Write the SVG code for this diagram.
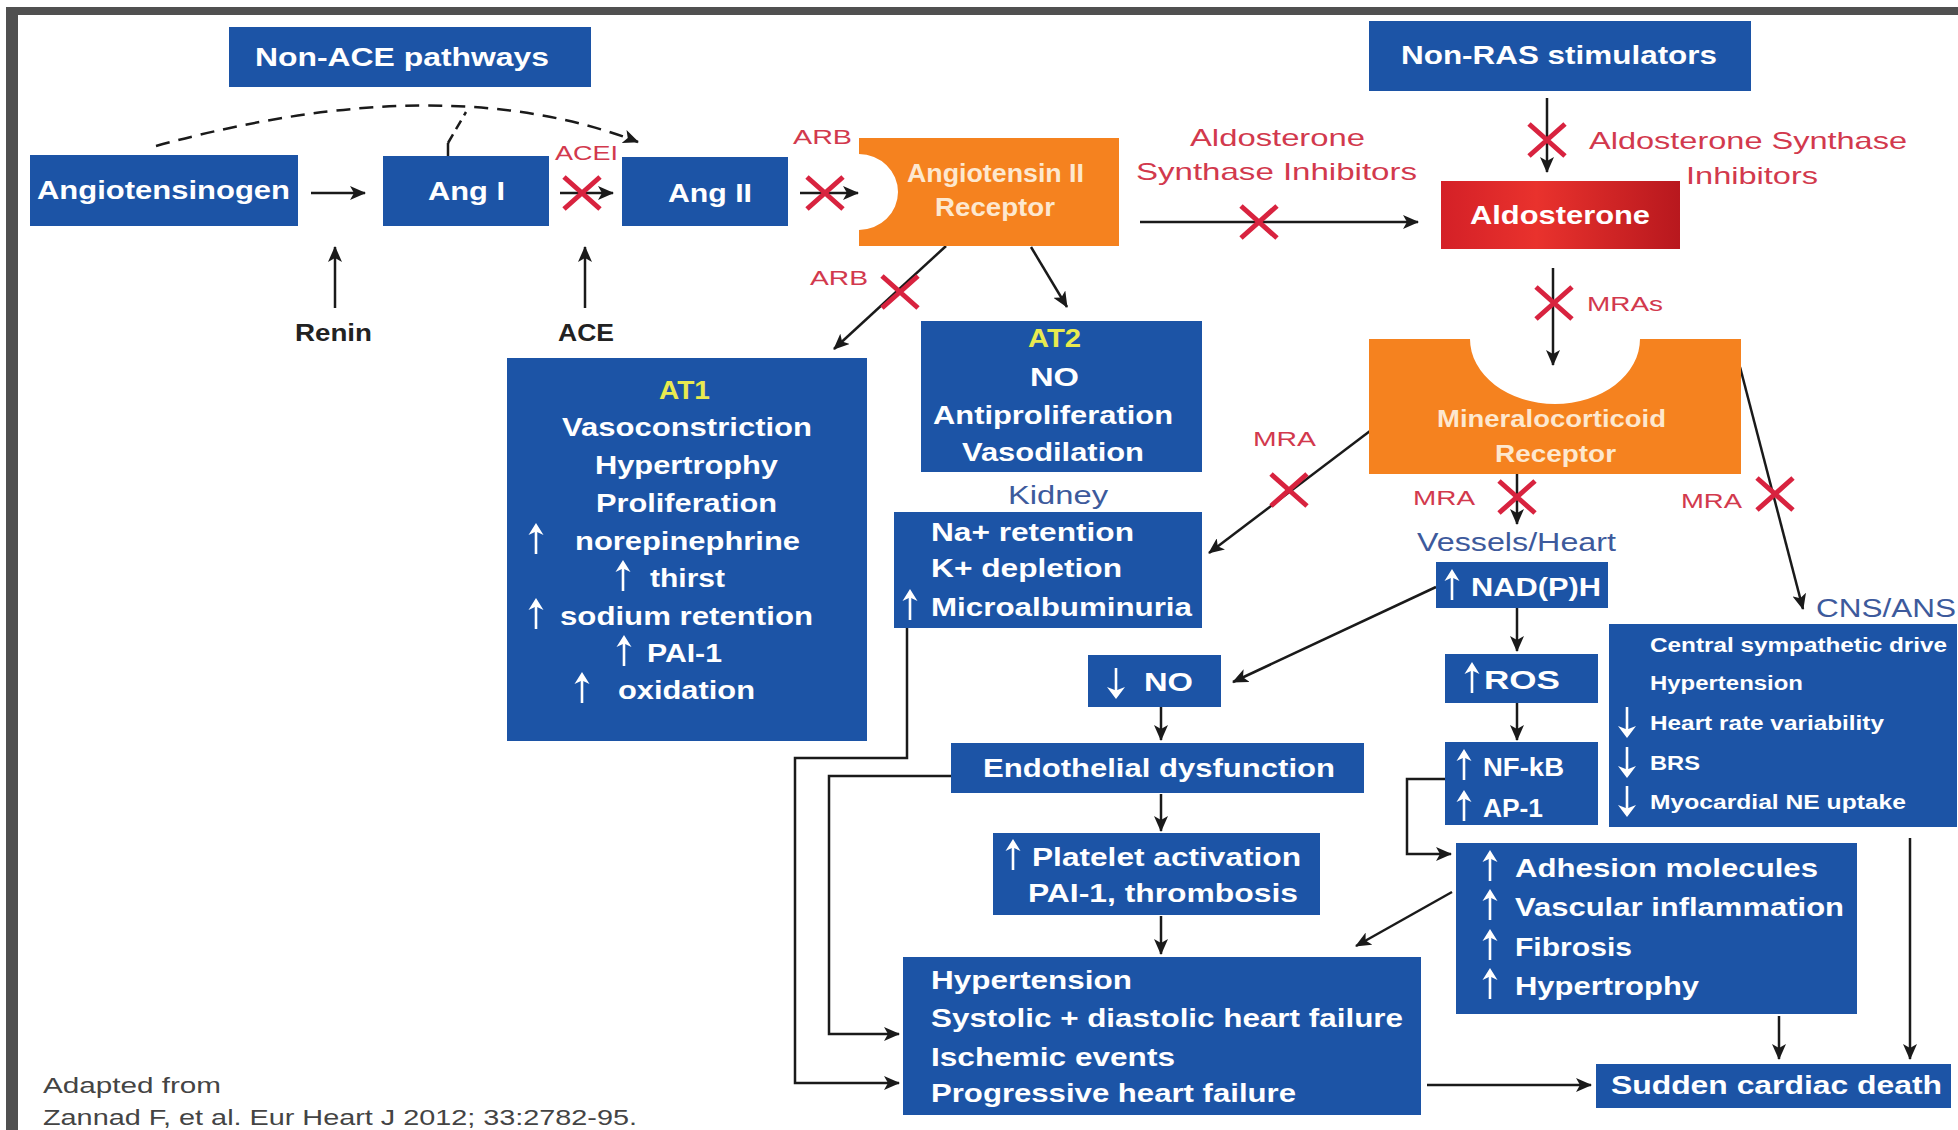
<svg xmlns="http://www.w3.org/2000/svg" width="1958" height="1130" viewBox="0 0 1958 1130">
<style>
text{font-family:"Liberation Sans",Arial,"DejaVu Sans",sans-serif}
.box{fill:#1c54a6}
.org{fill:#f5821f}
.wt{font-weight:bold;fill:#ffffff;font-size:25px}
.sm{font-size:20px}
.yl{font-weight:bold;fill:#e9ea4f;font-size:25px}
.cr{font-weight:bold;fill:#fde8cf;font-size:25px}
.red{fill:#d2394d;font-size:24px}
.rs{font-size:21px}
.lbl{fill:#3d5a9c;font-size:25px}
.blk{fill:#222222;font-weight:bold;font-size:23px}
.ft{fill:#444444;font-size:22px}
.conn{stroke:#1a1a1a;stroke-width:2.5;fill:none}
.xm{stroke:#d8233f;stroke-width:5;fill:none}
.sh{stroke:#ffffff;stroke-width:2.6;fill:none}
.hd{fill:#ffffff}
</style>
<defs>
<marker id="ah" viewBox="0 0 16 14" refX="15" refY="7" markerWidth="16" markerHeight="14" markerUnits="userSpaceOnUse" orient="auto">
<path d="M0,0 L16,7 L0,14 L4,7 Z" fill="#1a1a1a"/>
</marker>
<linearGradient id="rg" x1="0" y1="0" x2="1" y2="0">
<stop offset="0" stop-color="#d42027"/>
<stop offset="0.4" stop-color="#e9322d"/>
<stop offset="1" stop-color="#b8181e"/>
</linearGradient>
<g id="x"><path class="xm" d="M-18,-16 L18,16 M18,-16 L-18,16"/></g>
<g id="up"><path class="sh" d="M0,4 V-20"/><path class="hd" d="M-7.5,-15 L0,-27 L7.5,-15 L0,-18.5 Z"/></g>
<g id="dn"><path class="sh" d="M0,-23 V2"/><path class="hd" d="M-9,-4 L0,8 L9,-4 L0,-0.5 Z"/></g>
</defs>
<rect width="1958" height="1130" fill="#ffffff"/>
<g id="frame" fill="#505050">
<rect x="6" y="7" width="1952" height="8"/>
<rect x="6" y="7" width="12" height="1123"/>
</g>

<g id="connectors">
<line class="conn" x1="311" y1="193" x2="365" y2="193" marker-end="url(#ah)"/>
<line class="conn" x1="560" y1="193" x2="613" y2="193" marker-end="url(#ah)"/>
<line class="conn" x1="800" y1="193" x2="858" y2="193" marker-end="url(#ah)"/>
<line class="conn" x1="335" y1="308" x2="335" y2="247" marker-end="url(#ah)"/>
<line class="conn" x1="585" y1="308" x2="585" y2="247" marker-end="url(#ah)"/>
<path class="conn" d="M156,146 Q444,67 638,142" stroke-dasharray="14 9" marker-end="url(#ah)"/>
<path class="conn" d="M448,156 L448,143"/>
<path class="conn" d="M448,143 L466,112" stroke-dasharray="10 6"/>
<line class="conn" x1="1140" y1="222" x2="1418" y2="222" marker-end="url(#ah)"/>
<line class="conn" x1="946" y1="246" x2="834" y2="349" marker-end="url(#ah)"/>
<line class="conn" x1="1031" y1="247" x2="1067" y2="307" marker-end="url(#ah)"/>
<line class="conn" x1="1547" y1="98" x2="1547" y2="172" marker-end="url(#ah)"/>
<line class="conn" x1="1553" y1="268" x2="1553" y2="365" marker-end="url(#ah)"/>
<line class="conn" x1="1370" y1="431" x2="1209" y2="553" marker-end="url(#ah)"/>
<line class="conn" x1="1517" y1="474" x2="1517" y2="524" marker-end="url(#ah)"/>
<line class="conn" x1="1740" y1="367" x2="1803" y2="609" marker-end="url(#ah)"/>
<line class="conn" x1="1436" y1="587" x2="1233" y2="682" marker-end="url(#ah)"/>
<line class="conn" x1="1517" y1="608" x2="1517" y2="651" marker-end="url(#ah)"/>
<line class="conn" x1="1517" y1="703" x2="1517" y2="740" marker-end="url(#ah)"/>
<line class="conn" x1="1161" y1="707" x2="1161" y2="740" marker-end="url(#ah)"/>
<line class="conn" x1="1161" y1="794" x2="1161" y2="831" marker-end="url(#ah)"/>
<line class="conn" x1="1161" y1="916" x2="1161" y2="954" marker-end="url(#ah)"/>
<path class="conn" d="M1445,779 H1407 V854 H1451" marker-end="url(#ah)"/>
<line class="conn" x1="1452" y1="892" x2="1356" y2="946" marker-end="url(#ah)"/>
<line class="conn" x1="1779" y1="1016" x2="1779" y2="1059" marker-end="url(#ah)"/>
<line class="conn" x1="1910" y1="838" x2="1910" y2="1059" marker-end="url(#ah)"/>
<line class="conn" x1="1427" y1="1085" x2="1591" y2="1085" marker-end="url(#ah)"/>
<path class="conn" d="M907,628 V758 H795 V1083 H899" marker-end="url(#ah)"/>
<path class="conn" d="M951,776 H829 V1034 H899" marker-end="url(#ah)"/>
</g>

<g id="inhibitors">
<use href="#x" x="582" y="193"/>
<use href="#x" x="825" y="193"/>
<use href="#x" x="900" y="292"/>
<use href="#x" x="1259" y="222"/>
<use href="#x" x="1547" y="140"/>
<use href="#x" x="1554" y="303"/>
<use href="#x" x="1289" y="490"/>
<use href="#x" x="1517" y="497"/>
<use href="#x" x="1775" y="494"/>
</g>

<g id="labels">
<text class="red rs" x="555" y="160" textLength="63" lengthAdjust="spacingAndGlyphs">ACEI</text>
<text class="red rs" x="793" y="144" textLength="59" lengthAdjust="spacingAndGlyphs">ARB</text>
<text class="red rs" x="810" y="285" textLength="58" lengthAdjust="spacingAndGlyphs">ARB</text>
<text class="red" x="1190" y="146" textLength="175" lengthAdjust="spacingAndGlyphs">Aldosterone</text>
<text class="red" x="1136" y="180" textLength="281" lengthAdjust="spacingAndGlyphs">Synthase Inhibitors</text>
<text class="red" x="1589" y="149" textLength="318" lengthAdjust="spacingAndGlyphs">Aldosterone Synthase</text>
<text class="red" x="1686" y="184" textLength="132" lengthAdjust="spacingAndGlyphs">Inhibitors</text>
<text class="red rs" x="1587" y="311" textLength="76" lengthAdjust="spacingAndGlyphs">MRAs</text>
<text class="red rs" x="1253" y="446" textLength="63" lengthAdjust="spacingAndGlyphs">MRA</text>
<text class="red rs" x="1413" y="505" textLength="62" lengthAdjust="spacingAndGlyphs">MRA</text>
<text class="red rs" x="1681" y="508" textLength="61" lengthAdjust="spacingAndGlyphs">MRA</text>
<text class="blk" x="295" y="341" textLength="77" lengthAdjust="spacingAndGlyphs">Renin</text>
<text class="blk" x="558" y="341" textLength="56" lengthAdjust="spacingAndGlyphs">ACE</text>
<text class="lbl" x="1008" y="504" textLength="100" lengthAdjust="spacingAndGlyphs">Kidney</text>
<text class="lbl" x="1417" y="551" textLength="199" lengthAdjust="spacingAndGlyphs">Vessels/Heart</text>
<text class="lbl" x="1816" y="617" textLength="140" lengthAdjust="spacingAndGlyphs">CNS/ANS</text>
<text class="ft" x="43" y="1093" textLength="178" lengthAdjust="spacingAndGlyphs">Adapted from</text>
<text class="ft" x="43" y="1125" textLength="594" lengthAdjust="spacingAndGlyphs">Zannad F, et al. Eur Heart J 2012; 33:2782-95.</text>
</g>

<g id="non-ace">
<rect class="box" x="229" y="27" width="362" height="60"/>
<text class="wt" x="255" y="66" textLength="294" lengthAdjust="spacingAndGlyphs">Non-ACE pathways</text>
</g>
<g id="non-ras">
<rect class="box" x="1369" y="21" width="382" height="70"/>
<text class="wt" x="1401" y="64" textLength="316" lengthAdjust="spacingAndGlyphs">Non-RAS stimulators</text>
</g>
<g id="angiotensinogen">
<rect class="box" x="30" y="155" width="268" height="71"/>
<text class="wt" x="37" y="199" textLength="253" lengthAdjust="spacingAndGlyphs">Angiotensinogen</text>
</g>
<g id="ang1">
<rect class="box" x="383" y="156" width="166" height="70"/>
<text class="wt" x="428" y="200" textLength="77" lengthAdjust="spacingAndGlyphs">Ang I</text>
</g>
<g id="ang2">
<rect class="box" x="622" y="157" width="166" height="69"/>
<text class="wt" x="668" y="202" textLength="84" lengthAdjust="spacingAndGlyphs">Ang II</text>
</g>
<g id="at2-receptor">
<path class="org" d="M859,138 H1119 V246 H859 V230 A39,38 0 0 0 859,154 Z"/>
<text class="cr" x="907" y="182" textLength="177" lengthAdjust="spacingAndGlyphs">Angiotensin II</text>
<text class="cr" x="935" y="216" textLength="120" lengthAdjust="spacingAndGlyphs">Receptor</text>
</g>
<g id="aldosterone">
<rect x="1441" y="181" width="239" height="68" fill="url(#rg)"/>
<text class="wt" x="1470" y="224" style="font-size:26px" textLength="180" lengthAdjust="spacingAndGlyphs">Aldosterone</text>
</g>
<g id="mr">
<path class="org" d="M1369,339 H1470 A85,65 0 0 0 1640,339 H1741 V474 H1369 Z"/>
<text class="cr" x="1437" y="427" style="font-size:24px" textLength="229" lengthAdjust="spacingAndGlyphs">Mineralocorticoid</text>
<text class="cr" x="1495" y="462" style="font-size:24px" textLength="121" lengthAdjust="spacingAndGlyphs">Receptor</text>
</g>
<g id="at1">
<rect class="box" x="507" y="358" width="360" height="383"/>
<text class="yl" x="659" y="399" textLength="51" lengthAdjust="spacingAndGlyphs">AT1</text>
<text class="wt" x="562" y="436" textLength="250" lengthAdjust="spacingAndGlyphs">Vasoconstriction</text>
<text class="wt" x="595" y="474" textLength="183" lengthAdjust="spacingAndGlyphs">Hypertrophy</text>
<text class="wt" x="596" y="512" textLength="181" lengthAdjust="spacingAndGlyphs">Proliferation</text>
<use href="#up" x="536" y="550"/>
<text class="wt" x="575" y="550" textLength="225" lengthAdjust="spacingAndGlyphs">norepinephrine</text>
<use href="#up" x="623" y="587"/>
<text class="wt" x="650" y="587" textLength="75" lengthAdjust="spacingAndGlyphs">thirst</text>
<use href="#up" x="536" y="625"/>
<text class="wt" x="560" y="625" textLength="253" lengthAdjust="spacingAndGlyphs">sodium retention</text>
<use href="#up" x="624" y="662"/>
<text class="wt" x="647" y="662" textLength="75" lengthAdjust="spacingAndGlyphs">PAI-1</text>
<use href="#up" x="582" y="699"/>
<text class="wt" x="618" y="699" textLength="137" lengthAdjust="spacingAndGlyphs">oxidation</text>
</g>
<g id="at2">
<rect class="box" x="921" y="321" width="281" height="151"/>
<text class="yl" x="1028" y="347" textLength="53" lengthAdjust="spacingAndGlyphs">AT2</text>
<text class="wt" x="1030" y="386" textLength="49" lengthAdjust="spacingAndGlyphs">NO</text>
<text class="wt" x="933" y="424" textLength="240" lengthAdjust="spacingAndGlyphs">Antiproliferation</text>
<text class="wt" x="962" y="461" textLength="182" lengthAdjust="spacingAndGlyphs">Vasodilation</text>
</g>
<g id="kidney">
<rect class="box" x="894" y="512" width="308" height="116"/>
<text class="wt" x="931" y="541" textLength="203" lengthAdjust="spacingAndGlyphs">Na+ retention</text>
<text class="wt" x="931" y="577" textLength="191" lengthAdjust="spacingAndGlyphs">K+ depletion</text>
<use href="#up" x="910" y="616"/>
<text class="wt" x="931" y="616" textLength="261" lengthAdjust="spacingAndGlyphs">Microalbuminuria</text>
</g>
<g id="no">
<rect class="box" x="1088" y="655" width="133" height="52"/>
<use href="#dn" x="1116" y="691"/>
<text class="wt" x="1144" y="691" textLength="49" lengthAdjust="spacingAndGlyphs">NO</text>
</g>
<g id="endothelial">
<rect class="box" x="951" y="743" width="413" height="50"/>
<text class="wt" x="983" y="777" textLength="352" lengthAdjust="spacingAndGlyphs">Endothelial dysfunction</text>
</g>
<g id="platelet">
<rect class="box" x="993" y="833" width="327" height="82"/>
<use href="#up" x="1013" y="866"/>
<text class="wt" x="1032" y="866" textLength="269" lengthAdjust="spacingAndGlyphs">Platelet activation</text>
<text class="wt" x="1028" y="902" textLength="270" lengthAdjust="spacingAndGlyphs">PAI-1, thrombosis</text>
</g>
<g id="outcomes">
<rect class="box" x="903" y="957" width="518" height="158"/>
<text class="wt" x="931" y="989" textLength="201" lengthAdjust="spacingAndGlyphs">Hypertension</text>
<text class="wt" x="931" y="1027" textLength="472" lengthAdjust="spacingAndGlyphs">Systolic + diastolic heart failure</text>
<text class="wt" x="931" y="1066" textLength="244" lengthAdjust="spacingAndGlyphs">Ischemic events</text>
<text class="wt" x="931" y="1102" textLength="365" lengthAdjust="spacingAndGlyphs">Progressive heart failure</text>
</g>
<g id="nadph">
<rect class="box" x="1436" y="562" width="172" height="46"/>
<use href="#up" x="1452" y="596"/>
<text class="wt" x="1471" y="596" textLength="130" lengthAdjust="spacingAndGlyphs">NAD(P)H</text>
</g>
<g id="ros">
<rect class="box" x="1445" y="654" width="153" height="49"/>
<use href="#up" x="1472" y="689"/>
<text class="wt" x="1484" y="689" textLength="76" lengthAdjust="spacingAndGlyphs">ROS</text>
</g>
<g id="nfkb">
<rect class="box" x="1445" y="742" width="153" height="83"/>
<use href="#up" x="1464" y="776"/>
<text class="wt" x="1483" y="776" textLength="81" lengthAdjust="spacingAndGlyphs">NF-kB</text>
<use href="#up" x="1464" y="817"/>
<text class="wt" x="1483" y="817" textLength="60" lengthAdjust="spacingAndGlyphs">AP-1</text>
</g>
<g id="cns">
<rect class="box" x="1609" y="624" width="348" height="203"/>
<text class="wt sm" x="1650" y="652" textLength="297" lengthAdjust="spacingAndGlyphs">Central sympathetic drive</text>
<text class="wt sm" x="1650" y="690" textLength="153" lengthAdjust="spacingAndGlyphs">Hypertension</text>
<use href="#dn" x="1627" y="730"/>
<text class="wt sm" x="1650" y="730" textLength="234" lengthAdjust="spacingAndGlyphs">Heart rate variability</text>
<use href="#dn" x="1627" y="770"/>
<text class="wt sm" x="1650" y="770" textLength="50" lengthAdjust="spacingAndGlyphs">BRS</text>
<use href="#dn" x="1627" y="809"/>
<text class="wt sm" x="1650" y="809" textLength="256" lengthAdjust="spacingAndGlyphs">Myocardial NE uptake</text>
</g>
<g id="adhesion">
<rect class="box" x="1456" y="843" width="401" height="171"/>
<use href="#up" x="1490" y="877"/>
<text class="wt" x="1515" y="877" textLength="303" lengthAdjust="spacingAndGlyphs">Adhesion molecules</text>
<use href="#up" x="1490" y="916"/>
<text class="wt" x="1515" y="916" textLength="329" lengthAdjust="spacingAndGlyphs">Vascular inflammation</text>
<use href="#up" x="1490" y="956"/>
<text class="wt" x="1515" y="956" textLength="117" lengthAdjust="spacingAndGlyphs">Fibrosis</text>
<use href="#up" x="1490" y="995"/>
<text class="wt" x="1515" y="995" textLength="184" lengthAdjust="spacingAndGlyphs">Hypertrophy</text>
</g>
<g id="scd">
<rect class="box" x="1596" y="1064" width="355" height="44"/>
<text class="wt" x="1611" y="1094" textLength="331" lengthAdjust="spacingAndGlyphs">Sudden cardiac death</text>
</g>
</svg>
